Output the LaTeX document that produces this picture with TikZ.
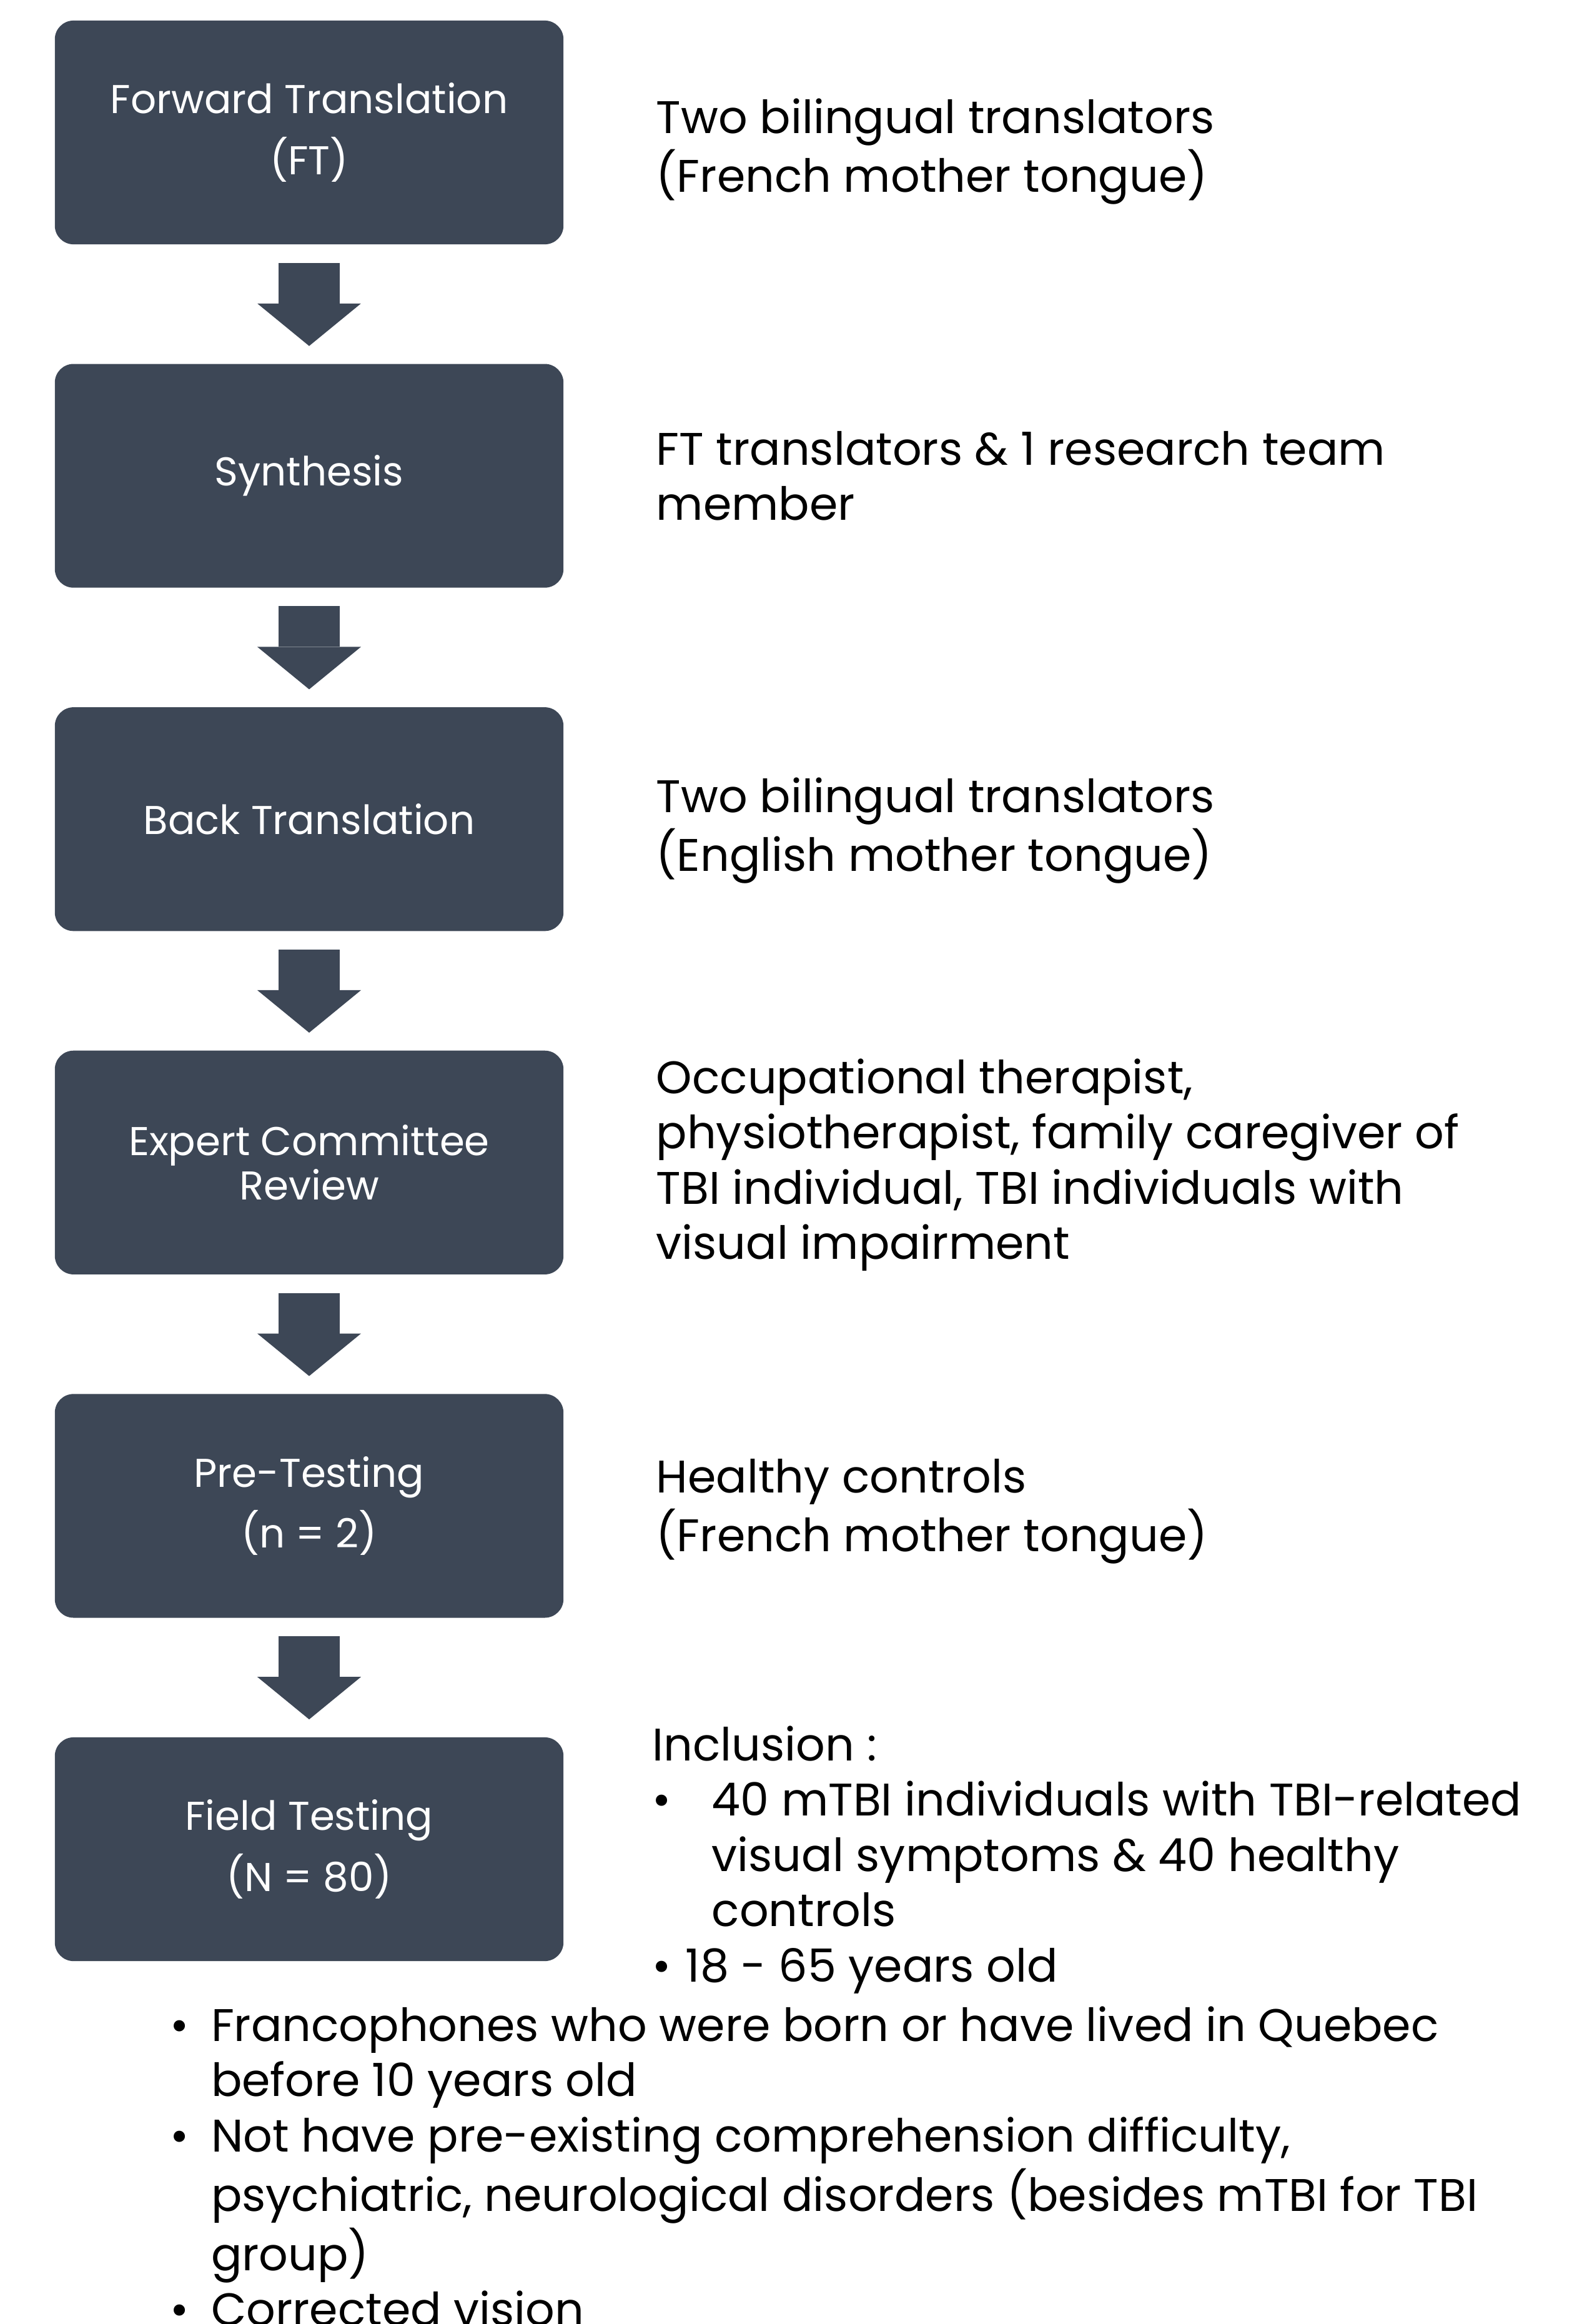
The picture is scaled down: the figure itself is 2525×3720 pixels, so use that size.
\documentclass[tikz,border=0pt]{standalone}
\usepackage{fontspec}
\setmainfont{Poppins}
\usetikzlibrary{arrows.meta}

\definecolor{slate}{HTML}{3D4756}
\newcommand{\boxfont}{\fontsize{18.3}{27.8}\selectfont}
\newcommand{\notefont}{\fontsize{20.8}{25.2}\selectfont}
\newcommand{\rows}[1]{\begin{tabular}[t]{@{}l@{}}#1\end{tabular}}

\tikzset{
  stage/.style={rectangle, rounded corners=0.3cm, fill=slate, text=white,
    minimum width=8.14cm, minimum height=3.58cm, inner sep=0pt,
    align=center, font=\boxfont},
  note/.style={anchor=base west, inner sep=0pt, font=\notefont},
  flow/.style={draw=slate, line width=0.98cm, shorten <=0.29cm, shorten >=0.28cm,
    -{Triangle[width=1.66cm, length=0.68cm, line width=0pt, fill=slate]}}
}

\begin{document}
\begin{tikzpicture}[x=0.01cm, y=-0.01cm]
				%%%%% FRAME %%%%%
				\useasboundingbox (0, 0) rectangle (2525, 3720);
				
				%%%%% STAGES %%%%%
				\node[stage] (ft) at (495, 212) {Forward Translation\\(FT)};
				\node[stage] (syn) at (495, 761.6) {Synthesis};
				\node[stage] (bt) at (495, 1311.2) {Back Translation};
				\node[stage, font=\fontsize{18.3}{20.2}\selectfont] (ecr) at (495, 1860.8) {Expert Committee\\Review};
				\node[stage] (pre) at (495, 2410.4) {Pre-Testing\\(n = 2)};
				\node[stage] (field) at (495, 2960) {Field Testing\\(N = 80)};
				
				\draw[flow] (ft) -- (syn);
				\draw[flow] (syn) -- (bt);
				\draw[flow] (bt) -- (ecr);
				\draw[flow] (ecr) -- (pre);
				\draw[flow] (pre) -- (field);
				
				%%%%% NOTES %%%%%
				\node[note] (ft-note) at (1050, 213) {\rows{Two bilingual translators\\(French mother tongue)}};
				\node[note] (syn-note) at (1050, 744) {\rows{FT translators \& 1 research team\\member}};
				\node[note] (bt-note) at (1050, 1300) {\rows{Two bilingual translators\\(English mother tongue)}};
				\node[note] (ecr-note) at (1050, 1750) {\rows{Occupational therapist,\\physiotherapist, family caregiver of\\TBI individual, TBI individuals with\\visual impairment}};
				\node[note] (pre-note) at (1050, 2389) {\rows{Healthy controls\\(French mother tongue)}};
				\node[note] (field-note) at (1044, 2818) {\begin{tabular}[t]{@{}p{27pt}@{}l@{}}
				  \multicolumn{2}{@{}l@{}}{Inclusion :}\\
				  • & 40 mTBI individuals with TBI-related\\
				    & visual symptoms \& 40 healthy\\
				    & controls\\
				  \multicolumn{2}{@{}l@{}}{•\hspace{6.5pt}18 - 65 years old}
				\end{tabular}};
				\node[note] (criteria) at (272, 3267) {\begin{tabular}[t]{@{}p{18.6pt}@{}l@{}}
				  • & Francophones who were born or have lived in Quebec\\
				    & before 10 years old\\
				  • & Not have pre-existing comprehension difficulty,\\
				    & psychiatric, neurological disorders (besides mTBI for TBI\\
				    & group)\\
				  • & Corrected vision
				\end{tabular}};
\end{tikzpicture}
\end{document}
